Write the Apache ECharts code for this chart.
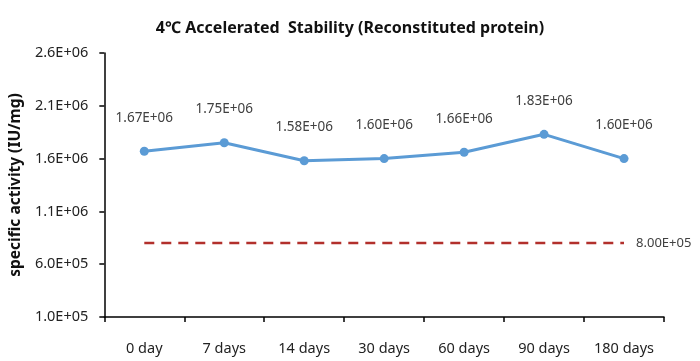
<!DOCTYPE html>
<html>
<head>
<meta charset="utf-8">
<script src="https://cdn.jsdelivr.net/npm/echarts@6/dist/echarts.min.js"></script>
<style>html,body{margin:0;padding:0;background:#fff}#c{width:700px;height:361px}</style>
</head>
<body>
<div id="c"></div>
<script>
const titleText = '4\u2103 Accelerated  Stability (Reconstituted protein)';
const yAxisName = 'specific activity (IU/mg)';
const categories = ['0 day', '7 days', '14 days', '30 days', '60 days', '90 days', '180 days'];
const activity = [1670000, 1750000, 1580000, 1600000, 1660000, 1830000, 1600000];
const limitValue = 800000;
const limitLine = categories.map(() => limitValue);
const yMin = 100000, yMax = 2600000, yStep = 500000;

function sci(v, digits) {
  const s = Number(v).toExponential(digits);
  const [m, e] = s.split('e');
  const sign = e[0] === '-' ? '-' : '+';
  const ex = String(Math.abs(parseInt(e, 10))).padStart(2, '0');
  return m + 'E' + sign + ex;
}

const font = 'Noto Sans';
const chart = echarts.init(document.getElementById('c'), null, {renderer: 'canvas'});
chart.setOption({
  animation: false,
  backgroundColor: '#ffffff',
  title: {
    text: titleText, left: 'center', top: 15,
    textStyle: {fontFamily: font, fontSize: 16, fontWeight: 'bold', color: '#111'}
  },
  grid: {left: 101, right: 36, top: 53, bottom: 44, containLabel: false},
  xAxis: {
    type: 'category', data: categories, boundaryGap: true,
    axisLine: {lineStyle: {color: '#000', width: 1.5}},
    axisTick: {show: true, alignWithLabel: false, length: 5, lineStyle: {color: '#000', width: 1.5}},
    axisLabel: {fontFamily: font, fontSize: 14.5, color: '#222', margin: 24}
  },
  yAxis: {
    type: 'value', min: yMin, max: yMax, interval: yStep,
    name: yAxisName, nameLocation: 'middle', nameGap: 80, nameRotate: 90,
    nameTextStyle: {fontFamily: font, fontSize: 15.5, fontWeight: 'bold', color: '#111'},
    axisLine: {show: true, lineStyle: {color: '#000', width: 1.5}},
    axisTick: {show: true, length: 5, lineStyle: {color: '#000', width: 1.5}},
    splitLine: {show: false},
    axisLabel: {fontFamily: font, fontSize: 14.5, color: '#222', margin: 16, formatter: v => sci(v, 1)}
  },
  series: [
    {
      type: 'line', data: activity,
      symbol: 'circle', symbolSize: 9,
      lineStyle: {color: '#5B9BD5', width: 3},
      itemStyle: {color: '#5B9BD5'},
      label: {
        show: true, position: 'top', distance: 22,
        fontFamily: font, fontSize: 13.5, color: '#404040',
        formatter: p => sci(p.value, 2)
      },
      z: 3
    },
    {
      type: 'line', data: limitLine,
      symbol: 'none',
      lineStyle: {color: '#B2302C', width: 2.5, type: [10, 7]},
      itemStyle: {color: '#B2302C'},
      endLabel: {
        show: true, distance: 12,
        fontFamily: font, fontSize: 13, color: '#404040',
        formatter: p => sci(p.value, 2)
      },
      z: 2
    }
  ]
});
</script>
</body>
</html>
